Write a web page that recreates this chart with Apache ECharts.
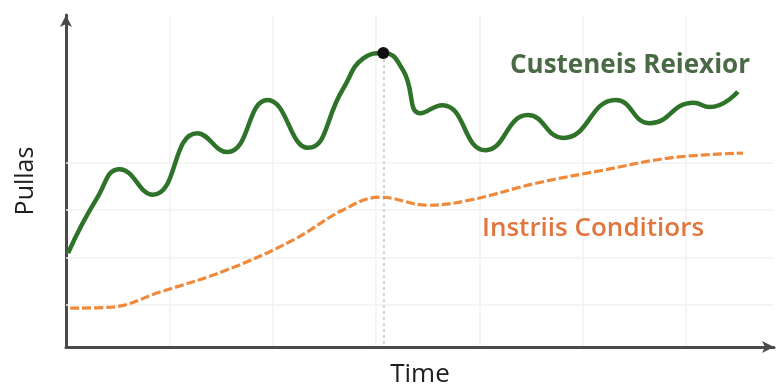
<!DOCTYPE html>
<html>
<head>
<meta charset="utf-8">
<script src="https://cdn.jsdelivr.net/npm/echarts@6/dist/echarts.min.js"></script>
<style>
  html, body { margin: 0; padding: 0; background: #fff; }
  #chart { width: 779px; height: 389px; }
</style>
</head>
<body>
<div id="chart"></div>
<script>
// Time positions and values for the wavy upper curve
const customerTime = [0.2, 3.0, 5.2, 8.4, 12.7, 15.6, 19.5, 23.4, 26.8, 28.8, 30.7, 32.6, 34.3, 36.4, 40.6, 44.7, 48.1, 53.2, 56.5, 60.7, 62.3, 65.0];
const customerValues = [20.9, 32.5, 38.6, 33.2, 46.2, 42.2, 53.2, 43.1, 55.5, 62.0, 63.1, 59.5, 50.4, 52.1, 42.6, 50.0, 45.2, 53.2, 48.3, 52.6, 51.7, 54.9];

// Time positions and values for the dashed lower curve
const conditionTime = [0.4, 4.3, 9.1, 15.6, 22.0, 26.8, 30.4, 35.0, 39.1, 45.6, 52.0, 58.5, 65.5];
const conditionValues = [9.3, 9.5, 12.7, 17.4, 23.7, 30.0, 32.7, 31.0, 32.1, 35.7, 38.4, 41.0, 42.0];

// Highlighted peak of the upper curve
const peakTime = 30.7;
const peakValue = 63.1;

// Faint horizontal guide levels
const guideLevels = [10, 20, 30, 40];

const seriesNames = ['Custeneis Reiexior', 'Instriis Conditiors'];
const axisNames = { x: 'Time', y: 'Pullas' };

const yMin = 1.12;
const yMax = 71.1;

const zip = (xs, ys) => xs.map((x, i) => [x, ys[i]]);

const chart = echarts.init(document.getElementById('chart'), null, { renderer: 'canvas' });

const axisLineStyle = { color: '#4a4a4a', width: 3 };

chart.setOption({
  animation: false,
  backgroundColor: '#ffffff',
  grid: { left: 66, right: 5, top: 15, bottom: 42, containLabel: false, outerBoundsMode: 'none' },
  xAxis: {
    type: 'value',
    min: 0,
    max: 68.5,
    interval: 10,
    name: axisNames.x,
    nameLocation: 'middle',
    nameGap: 15,
    nameTextStyle: { fontFamily: 'Open Sans', fontSize: 26, color: '#1e1e1e' },
    axisLine: { show: true, lineStyle: axisLineStyle, symbol: ['none', 'arrow'], symbolSize: [9, 12] },
    axisTick: { show: false },
    axisLabel: { show: false },
    splitLine: { show: true, showMinLine: false, showMaxLine: false, lineStyle: { color: '#f2f2f2', width: 1.5 } }
  },
  yAxis: {
    type: 'value',
    min: yMin,
    max: yMax,
    name: axisNames.y,
    nameLocation: 'middle',
    nameGap: 28,
    nameRotate: 90,
    nameTextStyle: { fontFamily: 'Open Sans', fontSize: 25, color: '#1e1e1e' },
    axisLine: { show: true, lineStyle: axisLineStyle, symbol: ['none', 'arrow'], symbolSize: [9, 12] },
    axisTick: { show: false },
    axisLabel: { show: false },
    splitLine: { show: false }
  },
  series: [
    {
      // background guides only, kept beneath both curves
      name: 'guides',
      type: 'line',
      data: [],
      z: 1,
      silent: true,
      markLine: {
        silent: true,
        symbol: 'none',
        z: 1,
        label: { show: false },
        lineStyle: { color: '#f2f2f2', width: 1.5, type: 'solid' },
        data: guideLevels.map(v => ({ yAxis: v }))
      }
    },
    {
      name: seriesNames[1],
      type: 'line',
      data: zip(conditionTime, conditionValues),
      smooth: 0.4,
      showSymbol: false,
      z: 3,
      lineStyle: { color: '#ef8a3c', width: 3.2, type: [9, 3] }
    },
    {
      name: seriesNames[0],
      type: 'line',
      data: zip(customerTime, customerValues),
      smooth: 0.5,
      showSymbol: false,
      z: 4,
      lineStyle: { color: '#2f7229', width: 4.5 },
      markLine: {
        silent: true,
        symbol: 'none',
        z: 2,
        label: { show: false },
        lineStyle: { color: '#d4d4d4', width: 2, type: [3, 3] },
        data: [[{ coord: [peakTime, peakValue] }, { coord: [peakTime, yMin] }]]
      },
      markPoint: {
        silent: true,
        symbol: 'circle',
        symbolSize: 12,
        z: 6,
        itemStyle: { color: '#111111' },
        label: { show: false },
        data: [{ coord: [peakTime, peakValue] }]
      }
    }
  ],
  graphic: [
    {
      type: 'text',
      left: 510,
      top: 53,
      z: 10,
      style: { text: seriesNames[0], font: 'bold 26px "Open Sans"', fill: '#4a6a45' }
    },
    {
      type: 'text',
      left: 482,
      top: 216,
      z: 10,
      style: { text: seriesNames[1], font: '600 26px "Open Sans"', fill: '#e0763e' }
    }
  ]
});
</script>
</body>
</html>
